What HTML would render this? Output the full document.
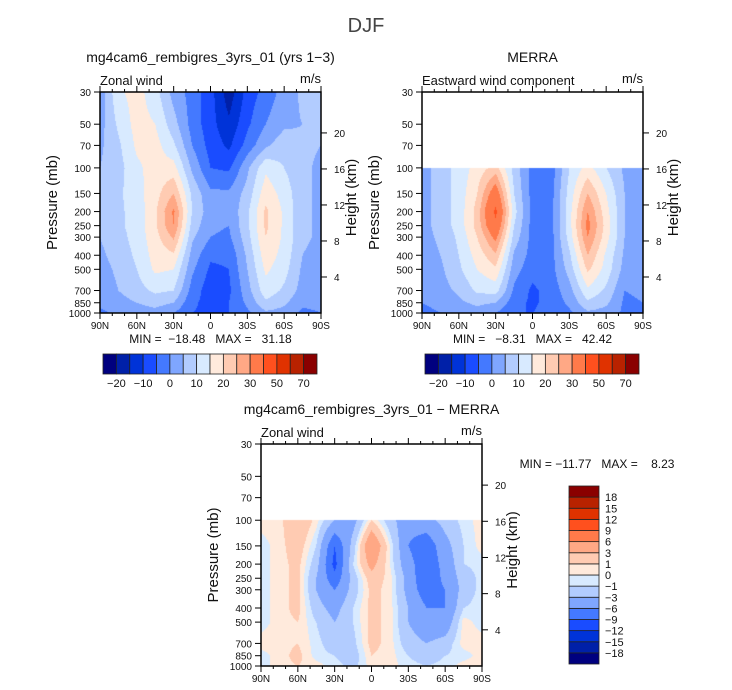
<!DOCTYPE html>
<html><head><meta charset="utf-8">
<style>
body{margin:0;background:#fff;}
#wrap{position:relative;width:732px;height:690px;overflow:hidden;font-family:"Liberation Sans",sans-serif;}
canvas{position:absolute;}
svg{position:absolute;left:0;top:0;}
svg text{white-space:pre;}
</style></head>
<body>
<div id="wrap">
<canvas id="c0"></canvas>
<canvas id="c1"></canvas>
<canvas id="c2"></canvas>
<svg id="s" width="732" height="690"></svg>
</div>
<script>
const lats=[90,75,60,45,30,15,0,-15,-30,-45,-60,-75,-90];
const plevs=[30,50,70,100,150,200,250,300,400,500,700,850,1000];
const latTickLabels=["90N","60N","30N","0","30S","60S","90S"];
const latTickValues=[90,60,30,0,-30,-60,-90];
const pTicks=[30,50,70,100,150,200,250,300,400,500,700,850,1000];
const kmTicks=[4,8,12,16,20];
const modelU=[
[2,14,17,12,3,-2,-8,-18,-8,-3,2,6,7],
[3,11,17,15,7,-2,-8,-14,-6,0,4,5,5],
[4,9,16,17,11,0,-7,-11,-3,4,8,6,5],
[5,8,14,17,17,4,-5,-6,4,14,10,6,4],
[5,9,13,18,25,9,1,1,7,18,13,6,4],
[5,9,12,19,31,10,2,1,9,21,14,6,4],
[5,9,12,19,30,8,1,0,9,21,14,6,4],
[5,8,12,18,26,6,0,-1,8,20,14,6,4],
[4,7,11,17,19,3,-4,-4,6,18,13,5,3],
[3,6,10,16,15,1,-6,-5,5,16,12,4,3],
[2,5,8,11,10,-2,-8,-6,3,13,9,3,2],
[1,3,5,7,5,-4,-7,-5,1,9,6,1,1],
[-1,1,2,3,0,-5,-6,-5,-1,4,3,-1,0]];
const merraU=[
[null,null,null,null,null,null,null,null,null,null,null,null,null],
[null,null,null,null,null,null,null,null,null,null,null,null,null],
[null,null,null,null,null,null,null,null,null,null,null,null,null],
[3,7,12,17,22,8,-2,-3,10,17,10,4,2],
[3,7,12,20,35,10,-2,-2,12,25,15,5,3],
[3,7,12,22,42,12,-2,-2,13,30,17,5,3],
[3,7,12,22,38,10,-2,-2,13,32,18,5,3],
[3,6,11,20,32,8,-2,-2,12,30,17,5,3],
[2,5,10,17,24,4,-2,-2,9,25,14,4,2],
[2,4,9,15,19,2,-3,-2,7,21,13,3,2],
[1,3,6,11,12,-1,-6,-3,3,14,9,0,1],
[0,1,4,6,5,-3,-6,-3,1,9,6,-1,0],
[-1,0,2,3,0,-5,-5,-3,-1,4,3,-1,0]];
const diffU=[
[null,null,null,null,null,null,null,null,null,null,null,null,null],
[null,null,null,null,null,null,null,null,null,null,null,null,null],
[null,null,null,null,null,null,null,null,null,null,null,null,null],
[0.5,0.5,3,0.5,-3,-4,1,-2,-5,-4,-2,-0.5,0.5],
[-0.5,0.5,2,-1,-9,-2,6,0,-6,-8,-4,-1,0.5],
[-0.5,0.5,1.5,-2,-10,-1,4,0,-5,-8,-5,-1,-0.5],
[-0.5,0.5,1.5,-3,-8,-2,2,0.5,-4,-9,-5,-2,-0.5],
[-0.5,0.5,1.5,-3,-6,-2,1.5,0.5,-4,-8,-6,-2,-0.5],
[-0.5,0.5,1.5,-2,-4,-1,1.5,0.5,-3,-6,-6,-1,-0.5],
[-0.5,0.5,1,-1,-3,-1,1.5,0.5,-3,-5,-5,0.5,-0.5],
[0.5,0.5,1,-0.5,-2,-1.5,1.5,0.5,-2,-3,-2,0.5,0.5],
[-0.5,0.5,1.5,-0.5,-1,-2,1,0.5,-1,-2,-1,-0.5,0.5],
[-0.5,0.5,1,0.5,-0.5,-1.5,0.5,0.5,-0.5,-1,-0.5,0.5,0.5]];
const topLevels=[-20,-15,-10,-5,0,5,10,15,20,25,30,40,50,60,70];
const topLevelLabels=["−20","−10","0","10","20","30","50","70"];
const diffLevels=[-18,-15,-12,-9,-6,-3,-1,0,1,3,6,9,12,15,18];
const diffLevelLabels=["−18","−15","−12","−9","−6","−3","−1","0","1","3","6","9","12","15","18"];
const palette=["#00007f","#0020a8","#0033d8","#1a4cff","#4479ff","#7fa6ff","#b2ccff","#d8eaff","#ffeadc","#ffcbb2","#ffa885","#ff7a4a","#ff501e","#e03200","#b82200","#8a0000"];

const panels=[
 {x0:100,y0:92,W:221,H:221,data:modelU,levels:topLevels,cv:"c0"},
 {x0:422,y0:92,W:221,H:221,data:merraU,levels:topLevels,cv:"c1"},
 {x0:261,y0:444,W:221,H:222,data:diffU,levels:diffLevels,cv:"c2"}];
const L30=Math.log(30),L1000=Math.log(1000);
function xOf(P,lat){return P.x0+(90-lat)/180*P.W;}
function yOf(P,p){return P.y0+(Math.log(p)-L30)/(L1000-L30)*P.H;}
function colorIdx(levels,v){let i=0;while(i<levels.length&&v>=levels[i])i++;return i;}
function sample(P,lat,lp){
 let j=0;while(j<lats.length-2&&lat<lats[j+1])j++;
 let tx=(lats[j]-lat)/(lats[j]-lats[j+1]);
 let i=0;while(i<plevs.length-2&&lp>Math.log(plevs[i+1]))i++;
 let a=Math.log(plevs[i]),b=Math.log(plevs[i+1]);let ty=(lp-a)/(b-a);
 const d=P.data;const v00=d[i][j],v01=d[i][j+1],v10=d[i+1][j],v11=d[i+1][j+1];
 if(v00===null||v01===null){ if(ty<0.999) return null; }
 const top=(v00===null?v10:v00)*(1-tx)+(v01===null?v11:v01)*tx;
 const bot=v10*(1-tx)+v11*tx;
 return top*(1-ty)+bot*ty;
}
function hex(c){return [parseInt(c.slice(1,3),16),parseInt(c.slice(3,5),16),parseInt(c.slice(5,7),16)];}
const rgb=palette.map(hex);
panels.forEach(P=>{
 const cv=document.getElementById(P.cv);cv.width=P.W;cv.height=P.H;
 cv.style.left=P.x0+"px";cv.style.top=P.y0+"px";
 const ctx=cv.getContext("2d");const im=ctx.createImageData(P.W,P.H);
 for(let py=0;py<P.H;py++){
  const lp=L30+(py+0.5)/P.H*(L1000-L30);
  for(let px=0;px<P.W;px++){
   const lat=90-(px+0.5)/P.W*180;
   const v=sample(P,lat,lp);const k=(py*P.W+px)*4;
   let c=[255,255,255];if(v!==null)c=rgb[colorIdx(P.levels,v)];
   im.data[k]=c[0];im.data[k+1]=c[1];im.data[k+2]=c[2];im.data[k+3]=255;
  }}
 ctx.putImageData(im,0,0);
});

const S=document.getElementById("s");const NS="http://www.w3.org/2000/svg";
function mk(tag,attrs,txt){const e=document.createElementNS(NS,tag);for(const k in attrs)e.setAttribute(k,attrs[k]);if(txt!==undefined)e.textContent=txt;S.appendChild(e);return e;}
function text(x,y,s,size,anchor,name,extra){
 const e=mk("text",Object.assign({x:x,y:y,"font-size":size,"text-anchor":anchor||"middle",fill:"#111","font-family":"Liberation Sans, sans-serif"},extra||{}),s);
 
 
 return e;}
function line(x1,y1,x2,y2,name,w){const e=mk("line",{x1:x1,y1:y1,x2:x2,y2:y2,stroke:"#000","stroke-width":w||1});
 
 
 return e;}

text(366,32,"DJF",20,"middle","figure-title",{fill:"#444"});
const titles=[["mg4cam6_rembigres_3yrs_01 (yrs 1−3)","Zonal wind","MIN =  −18.48   MAX =   31.18"],
 ["MERRA","Eastward wind component","MIN =   −8.31   MAX =   42.42"],
 ["mg4cam6_rembigres_3yrs_01 − MERRA","Zonal wind",""]];
panels.forEach((P,n)=>{
 const r=P.x0+P.W,b=P.y0+P.H;
 text(P.x0+P.W/2,P.y0-30,titles[n][0],14,"middle","panel-title");
 text(P.x0,P.y0-7,titles[n][1],13,"start","variable-label");
 text(r,P.y0-9,"m/s",13,"end","units-label");
 const box=mk("rect",{x:P.x0,y:P.y0,width:P.W,height:P.H,fill:"none",stroke:"#000","stroke-width":1.5});
 
 
 for(let lat=90;lat>=-90;lat-=10){const x=xOf(P,lat);const major=(lat%30===0);
  line(x,b,x,b+(major?6:3),"x-tick");line(x,P.y0,x,P.y0-(major?6:3),"x-tick-top");}
 latTickValues.forEach((lat,i)=>text(xOf(P,lat),b+16,latTickLabels[i],10,"middle","x-tick-label"));
 pTicks.forEach(p=>{const y=yOf(P,p);line(P.x0-6,y,P.x0,y,"y-tick");
  text(P.x0-9,y+4,String(p),10,"end","y-tick-label");});
 kmTicks.forEach(z=>{const p=1000*Math.exp(-z/7);const y=yOf(P,p);line(r,y,r+6,y,"height-tick");
  text(r+13,y+4,String(z),10,"start","height-tick-label");});
 text(0,0,"Pressure (mb)",15,"middle","y-axis-title",{transform:`translate(${P.x0-43},${P.y0+P.H/2}) rotate(-90)`});
 text(0,0,"Height (km)",15,"middle","height-axis-title",{transform:`translate(${r+35},${P.y0+P.H/2-5}) rotate(-90)`});
 if(titles[n][2])text(P.x0+P.W/2,b+30,titles[n][2],12,"middle","min-max-label");
});
text(597,468,"MIN = −11.77   MAX =    8.23",12,"middle","diff-min-max-label");

[[103,topLevelLabels],[425,topLevelLabels]].forEach(([x0,labs])=>{
 const w=214/16;
 palette.forEach((c,i)=>{const e=mk("rect",{x:x0+i*w,y:354,width:w,height:20,fill:c,stroke:"#222","stroke-width":0.8});
  
  });
 labs.forEach((s,k)=>text(x0+(2*k+1)*w,387,s,11,"middle","colorbar-label"));
});
{const h=178/16;
 palette.forEach((c,i)=>{const e=mk("rect",{x:569,y:486+(15-i)*h,width:30,height:h,fill:c,stroke:"#222","stroke-width":0.8});
  
  });
 diffLevelLabels.forEach((s,k)=>text(605,486+(15-k)*h+4,s,11,"start","diff-colorbar-label"));
}
</script>
</body></html>
